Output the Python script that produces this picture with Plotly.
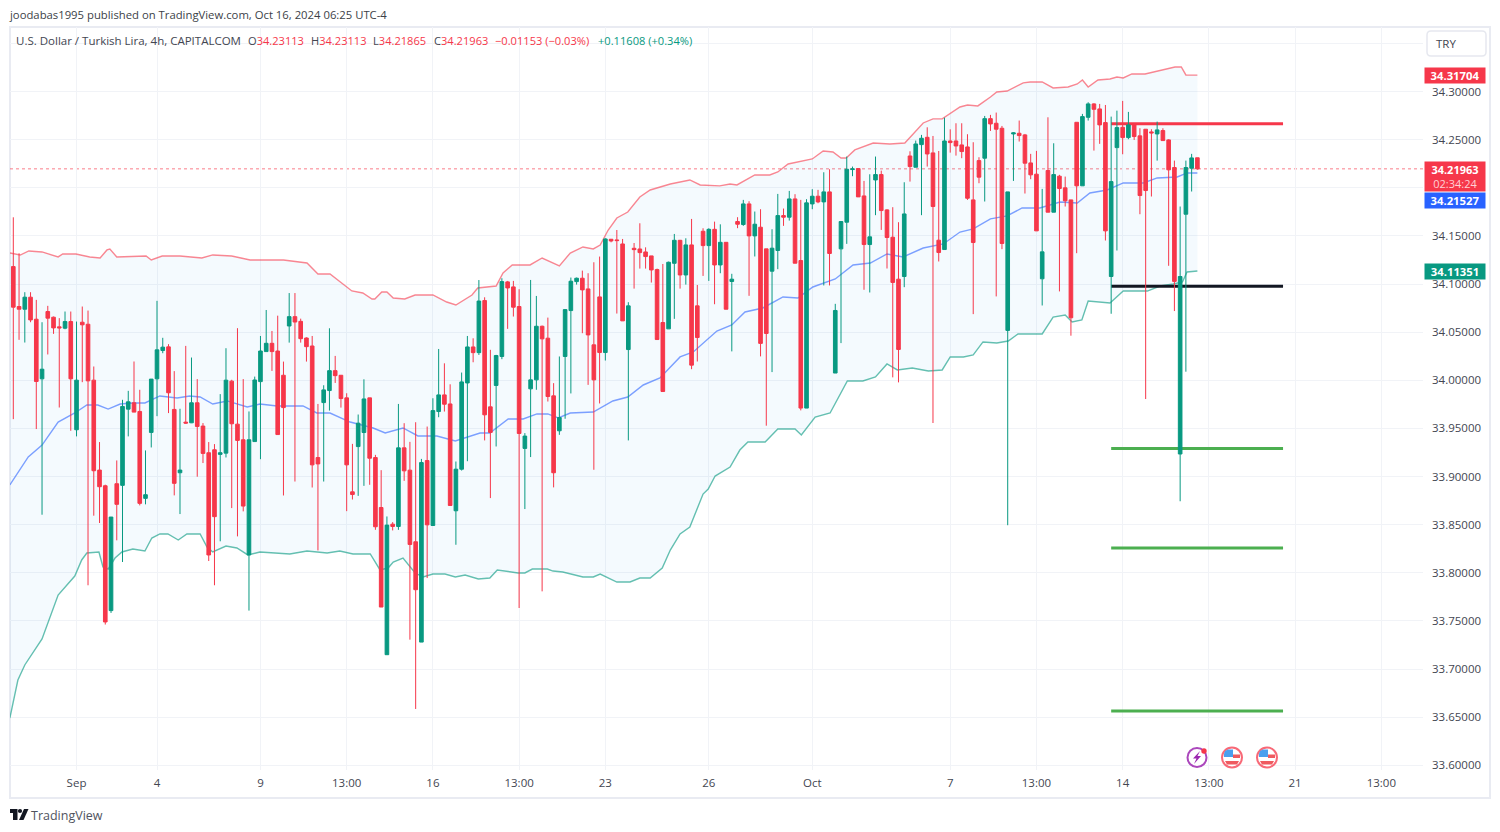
import plotly.graph_objects as go

highs = [34.1693,34.1319,34.0915,34.0915,34.0835,34.0603,34.0773,34.0662,34.0645,34.0714,
34.0714,34.0610,34.0766,34.0724,34.0143,33.9358,33.8915,33.8579,33.9167,33.9797,
33.9890,34.0195,33.9901,33.9271,34.0012,34.0825,34.0441,34.0375,34.0095,33.9704,
34.0357,34.0236,34.0012,33.9555,33.9358,33.9337,33.9856,34.0333,34.0005,34.0541,
34.0012,33.9676,34.0038,34.0460,34.0730,34.0512,34.0671,34.0194,34.0906,34.0906,
34.0640,34.0446,34.0460,33.9754,33.9948,34.0540,34.0253,34.0052,33.9865,33.9339,
33.9644,34.0010,33.9817,33.9225,33.9066,33.8585,33.8526,33.9754,33.9554,33.9360,
33.9564,33.9183,33.9519,33.9813,34.0325,34.0176,33.9958,33.9156,34.0080,34.0460,
34.0436,34.1041,34.0862,34.0316,34.0264,34.1060,34.1032,34.1032,34.0946,33.9451,
34.1042,34.0876,34.0568,34.0651,33.9970,34.0247,34.0738,34.1067,34.1067,34.1139,
34.1112,34.1226,34.1285,34.1475,34.1465,34.1561,34.1468,34.0811,34.1426,34.1631,
34.1381,34.1292,34.1160,34.1208,34.1233,34.1520,34.1458,34.1475,34.1676,34.0990,
34.1579,34.1579,34.1648,34.1620,34.1433,34.1106,34.1694,34.1874,34.1860,34.1753,
34.1777,34.1365,34.1569,34.1936,34.1784,34.1967,34.1933,34.1874,34.1881,34.1985,
34.1978,34.2161,34.2192,34.0794,34.1649,34.2324,34.2220,34.2199,34.2071,34.2140,
34.2324,34.2178,34.1777,34.1798,34.1642,34.2057,34.2379,34.2490,34.2549,34.2628,
34.2538,34.2382,34.2728,34.2607,34.2670,34.2670,34.2556,34.2473,34.2317,34.2746,
34.2757,34.2781,34.2642,34.1957,34.2577,34.2698,34.2559,34.2352,34.2383,34.1988,
34.2732,34.2462,34.2134,34.2116,34.1874,34.2680,34.2767,34.2888,34.2878,34.2871,
34.2860,34.2739,34.2801,34.2902,34.2788,34.2670,34.2618,34.2608,34.2608,34.2687,
34.2618,34.2504,34.2282,34.1805,34.2282,34.2352,34.23113]

opens = [34.1181,34.0766,34.0738,34.0863,34.0634,34.0015,34.0714,34.0655,34.0555,34.0541,
34.0610,33.9486,34.0603,34.0582,34.0001,33.9067,33.8904,33.7607,33.8925,33.8908,
33.9700,33.9766,33.9676,33.8773,33.9458,34.0015,34.0309,34.0347,33.9697,33.9039,
33.9565,33.9558,33.9766,33.9524,33.9247,33.9278,33.9230,33.9243,33.9991,33.9544,
33.9382,33.8185,33.9363,33.9986,34.0298,34.0384,34.0304,34.0052,34.0564,34.0661,
34.0612,34.0439,34.0356,33.9197,33.9768,33.9893,34.0100,34.0052,33.9817,33.8841,
33.9311,33.9457,33.9817,33.9197,33.8678,33.7149,33.8505,33.8481,33.9298,33.9066,
33.8322,33.7280,33.9166,33.8491,33.9675,33.9848,33.9754,33.8644,33.9076,33.9972,
34.0346,34.0287,34.0828,33.9724,33.9946,34.0247,34.1022,34.0970,34.0766,33.9292,
33.9911,34.0004,34.0561,34.0437,33.9838,33.9475,34.0247,34.0724,34.1025,34.1060,
34.0949,34.0368,34.0866,34.0288,34.1465,34.1458,34.1416,34.0319,34.1371,34.1364,
34.1333,34.1292,34.1150,34.0600,34.0534,34.1215,34.1454,34.1094,34.1406,34.0773,
34.1548,34.1399,34.1568,34.1198,34.1433,34.1026,34.1649,34.1618,34.1832,34.1500,
34.1590,34.1365,34.1133,34.1348,34.1711,34.1694,34.1884,34.1244,33.9711,34.1832,
34.1912,34.1853,34.1957,34.0075,34.1365,34.1642,34.2189,34.2199,34.1915,34.1410,
34.2081,34.2137,34.1770,34.1486,34.1050,34.1078,34.2330,34.2213,34.2448,34.2524,
34.2362,34.1455,34.1358,34.2486,34.2486,34.2445,34.2424,34.1874,34.2282,34.2307,
34.2718,34.2670,34.2618,34.0518,34.2559,34.2566,34.2549,34.2258,34.2141,34.1054,
34.2179,34.1746,34.2120,34.1999,34.1874,34.2680,34.2020,34.2732,34.2871,34.2819,
34.2677,34.1078,34.2417,34.2628,34.2521,34.2663,34.2539,34.2608,34.2580,34.2559,
34.2594,34.2497,34.2210,33.9234,34.1725,34.2203,34.23113]

closes = [34.0759,34.0738,34.0863,34.0627,33.9987,34.0115,34.0645,34.0544,34.0544,34.0610,
34.0015,34.0001,34.0576,33.9994,33.9060,33.8894,33.7489,33.8579,33.8711,33.9728,
33.9776,33.9669,33.8721,33.8811,34.0012,34.0316,34.0344,33.9870,33.8929,33.9067,
33.9555,33.9766,33.9520,33.9240,33.8185,33.8583,33.9247,34.0001,33.9548,33.9375,
33.8693,33.9382,34.0003,34.0304,34.0384,34.0298,33.9436,33.9716,34.0661,34.0605,
34.0432,34.0349,33.9121,33.9131,33.9900,34.0100,34.0048,33.9810,33.9121,33.8813,
33.9554,33.9806,33.9190,33.8478,33.7644,33.8495,33.8481,33.9298,33.9059,33.8294,
33.7824,33.9145,33.8498,33.9685,33.9848,33.9751,33.8699,33.9076,33.9983,34.0346,
34.0287,34.0823,33.9641,33.9458,34.0257,34.1025,34.0959,34.0759,33.9447,33.9420,
34.0004,34.0561,34.0430,33.9831,33.9039,33.9613,34.0734,34.1029,34.1060,34.0939,
34.0471,34.0004,34.0288,34.1468,34.1447,34.1451,34.0617,34.0773,34.1357,34.1326,
34.1285,34.1146,34.0423,33.9883,34.1226,34.1454,34.1094,34.1406,34.0157,34.0444,
34.1399,34.1568,34.1198,34.1433,34.0738,34.1050,34.1621,34.1832,34.1500,34.1621,
34.0383,34.0486,34.1372,34.1711,34.1694,34.1884,34.1216,33.9711,34.1843,34.1912,
34.1853,34.1957,34.1317,34.0725,34.1649,34.2192,34.2196,34.1905,34.1410,34.1490,
34.2137,34.1763,34.1483,34.1016,34.0320,34.1728,34.2220,34.2455,34.2514,34.2351,
34.1805,34.1327,34.2486,34.2469,34.2434,34.2376,34.1891,34.1431,34.2110,34.2718,
34.2663,34.2608,34.1421,34.1957,34.2570,34.2542,34.2255,34.2134,34.1552,34.1334,
34.1746,34.2137,34.1992,34.1864,34.0649,34.2020,34.2739,34.2871,34.2815,34.2653,
34.1552,34.2064,34.2625,34.2521,34.2653,34.2532,34.1919,34.1971,34.2570,34.2601,
34.2490,34.2186,34.1027,34.1078,34.2210,34.2310,34.21963]

lows = [33.9596,34.0420,34.0392,34.0603,33.9493,33.8603,34.0268,34.0482,33.9717,34.0530,
33.9475,33.9417,33.9980,33.7870,33.8593,33.8517,33.7462,33.7583,33.8337,33.8112,
33.9417,33.9669,33.8700,33.8711,33.9302,33.9627,34.0281,33.9659,33.8804,33.8610,
33.9548,33.9555,33.8998,33.9140,33.8122,33.7870,33.8327,33.9198,33.8672,33.8378,
33.8638,33.7607,33.9363,33.9180,34.0298,34.0097,33.9436,33.8803,34.0391,33.8948,
34.0391,34.0194,33.8886,33.8232,33.8948,33.9685,33.9972,33.9716,33.8640,33.8761,
33.8799,33.8903,33.8914,33.8446,33.7644,33.7149,33.8440,33.8446,33.8955,33.7305,
33.6585,33.7280,33.7945,33.8491,33.9616,33.9675,33.8699,33.8291,33.9062,33.9159,
34.0187,34.0263,33.9375,33.8776,33.9312,34.0219,34.0534,34.0662,33.7634,33.8662,
33.9202,33.9901,33.7807,33.9779,33.8887,33.9433,33.9600,33.9863,34.0994,34.0489,
33.9952,33.9070,33.9759,34.0205,34.1433,34.0693,34.0617,33.9375,34.0952,34.1160,
34.1160,34.1015,34.0423,33.9883,34.0534,34.0638,34.0952,34.0994,34.0115,34.0195,
34.1084,34.1032,34.0790,34.1112,34.0738,34.0300,34.1580,34.1604,34.0877,34.1286,
34.0248,33.9528,34.0085,34.1154,34.1604,34.1659,34.1216,33.9687,33.9711,34.1777,
34.1839,34.0985,34.0985,34.0075,34.0386,34.1417,34.2120,34.1905,34.0940,34.0912,
34.1715,34.1562,34.1161,34.0030,33.9978,34.0967,34.2064,34.2213,34.1715,34.2220,
33.9556,34.1234,34.1358,34.2365,34.2334,34.2307,34.1874,34.0687,34.2047,34.1857,
34.2590,34.0871,34.1362,33.8494,34.2071,34.2480,34.1940,34.2089,34.1552,34.0777,
34.1746,34.1746,34.0923,34.1805,34.0463,34.1320,34.2020,34.2698,34.2386,34.2456,
34.1452,34.0691,34.1348,34.2348,34.2504,34.2497,34.1725,33.9805,34.1909,34.2282,
34.2490,34.1189,34.0719,33.8743,34.0089,34.1961,34.21865]

candle_index = list(range(len(opens)))

upper_x = [-0.6,1.2,2.7,5.0,7.8,8.6,10.9,13.3,15.1,16.3,16.8,18.0,23.1,24.0,25.9,29.0,32.8,34.7,38.0,41.2,47.0,51.1,53.0,55.1,58.9,60.8,62.4,62.9,64.1,65.0,66.1,68.1,69.9,73.0,75.4,77.0,79.8,80.8,84.0,85.2,86.8,89.9,92.0,95.0,96.9,99.1,100.9,102.1,103.5,105.0,106.9,109.0,110.8,114.3,117.7,119.5,122.9,124.7,125.9,129.0,131.6,133.0,134.8,139.0,140.9,142.6,144.0,144.9,146.4,149.6,152.5,155.1,158.3,160.0,161.6,163.0,164.7,166.0,167.8,170.0,171.1,172.9,175.7,176.9,179.0,180.9,183.5,185.1,186.0,187.0,188.7,190.8,192.0,193.1,194.6,196.9,199.0,200.9,202.1,203.2,204.0,206.0]
upper_band = [34.1322,34.1301,34.1343,34.1333,34.1281,34.1312,34.1312,34.1281,34.1270,34.1354,34.1364,34.1281,34.1291,34.1250,34.1291,34.1291,34.1270,34.1302,34.1291,34.1250,34.1250,34.1218,34.1104,34.1104,34.0928,34.0907,34.0844,34.0844,34.0917,34.0917,34.0855,34.0844,34.0886,34.0886,34.0813,34.0782,34.0886,34.0959,34.0979,34.1115,34.1198,34.1198,34.1270,34.1187,34.1322,34.1385,34.1364,34.1405,34.1561,34.1686,34.1748,34.1904,34.1977,34.2039,34.2081,34.2029,34.2019,34.2039,34.2029,34.2133,34.2133,34.2164,34.2247,34.2299,34.2382,34.2372,34.2309,34.2309,34.2393,34.2465,34.2455,34.2465,34.2673,34.2715,34.2715,34.2767,34.2839,34.2860,34.2850,34.2943,34.2995,34.3005,34.3089,34.3099,34.3099,34.3037,34.3047,34.3078,34.3120,34.3047,34.3120,34.3130,34.3151,34.3141,34.3182,34.3182,34.3213,34.3234,34.3255,34.3255,34.3172,34.31704]

lower_x = [-0.6,0.8,2.0,5.0,7.8,10.7,11.9,12.8,14.9,15.6,16.5,17.7,18.9,20.8,22.9,24.1,25.5,26.9,28.7,30.2,32.5,33.7,34.7,37.0,38.9,40.8,42.9,48.1,51.1,54.6,56.8,59.1,62.1,63.8,65.2,66.1,67.8,69.9,71.3,73.0,75.1,76.9,78.6,80.9,82.9,84.2,87.8,89.0,90.3,92.9,93.9,95.6,99.1,100.9,102.1,105.0,107.3,109.0,110.8,112.9,114.3,116.0,117.7,120.0,120.9,122.1,124.7,126.4,127.8,130.8,133.0,136.0,137.1,139.5,142.1,144.2,145.1,147.8,150.0,152.0,153.8,156.4,159.2,161.6,163.0,165.3,167.0,168.7,171.1,173.1,174.8,179.0,180.9,183.0,184.2,185.9,187.0,190.8,193.1,197.3,199.5,201.8,203.4,204.2,206.0]
lower_band = [33.6491,33.6886,33.7042,33.7312,33.7769,33.7966,33.8133,33.8205,33.8216,33.8060,33.8039,33.8153,33.8216,33.8247,33.8226,33.8361,33.8403,33.8403,33.8340,33.8403,33.8403,33.8268,33.8216,33.8278,33.8257,33.8185,33.8216,33.8195,33.8226,33.8205,33.8226,33.8195,33.8195,33.8029,33.8049,33.8112,33.8153,33.7998,33.7956,33.7987,33.7987,33.7956,33.7977,33.7935,33.7945,33.8029,33.7998,33.7998,33.8039,33.8039,33.8018,33.8008,33.7956,33.7956,33.7987,33.7904,33.7904,33.7945,33.7945,33.8049,33.8236,33.8403,33.8475,33.8818,33.8870,33.9005,33.9099,33.9275,33.9359,33.9359,33.9494,33.9494,33.9431,33.9618,33.9660,33.9899,33.9992,33.9992,34.0034,34.0169,34.0107,34.0127,34.0096,34.0107,34.0242,34.0242,34.0263,34.0398,34.0387,34.0408,34.0481,34.0481,34.0657,34.0678,34.0605,34.0626,34.0824,34.0803,34.0927,34.0927,34.0979,34.1000,34.1021,34.1125,34.11351]

ma_x = [-0.6,2.6,5.0,7.8,10.7,12.8,14.7,16.5,18.6,20.8,22.9,25.5,28.5,30.7,32.5,34.7,37.2,40.7,42.9,45.9,50.4,52.8,55.1,58.6,62.6,64.7,67.8,70.4,73.7,76.9,81.2,82.9,86.1,88.7,91.1,93.0,94.8,96.9,100.9,104.3,106.9,109.6,112.5,116.0,118.3,122.4,125.0,127.3,130.4,133.9,136.5,139.1,143.0,146.1,149.1,152.0,154.8,158.3,161.8,164.7,167.0,170.0,172.9,175.5,178.6,182.1,185.1,187.3,190.3,193.1,196.6,199.0,202.5,204.2,206.0]
ma_band = [33.8912,33.9203,33.9327,33.9566,33.9660,33.9743,33.9743,33.9701,33.9753,33.9764,33.9764,33.9837,33.9816,33.9837,33.9826,33.9753,33.9785,33.9722,33.9753,33.9733,33.9733,33.9660,33.9660,33.9566,33.9504,33.9452,33.9504,33.9421,33.9421,33.9369,33.9452,33.9452,33.9598,33.9598,33.9650,33.9650,33.9608,33.9660,33.9670,33.9785,33.9826,33.9951,34.0024,34.0242,34.0294,34.0512,34.0574,34.0709,34.0751,34.0865,34.0855,34.0969,34.1052,34.1198,34.1218,34.1312,34.1281,34.1374,34.1416,34.1540,34.1572,34.1676,34.1707,34.1790,34.1790,34.1852,34.1842,34.1946,34.1977,34.2050,34.2050,34.2102,34.2112,34.2154,34.21527]

level_x = [191, 220.9]
resistance_level = 34.2666
pivot_level = 34.0976
support_levels = [33.9291, 33.8257, 33.6564]

y_ticks = [33.60,33.65,33.70,33.75,33.80,33.85,33.90,33.95,34.00,34.05,34.10,34.15,34.25,34.30,34.20,34.35]
y_labels = ["33.60000","33.65000","33.70000","33.75000","33.80000","33.85000","33.90000","33.95000","34.00000","34.05000","34.10000","34.15000","34.25000","34.30000","",""]
x_ticks = [11,25,43,58,73,88,103,121,139,163,178,193,208,223,238]
x_labels = ["Sep","4","9","13:00","16","13:00","23","26","Oct","7","13:00","14","13:00","21","13:00"]

RED = "#f6374a"
GREEN = "#089981"
BLUE = "#2962ff"
GRID = "#f1f3f7"
FONT = "Open Sans"
W, H = 1500, 832
L, R_, T, B = 10, 1423, 27, 770
xr = [-0.574, 245.25]
yr = [33.5951, 34.3670]

def px(x): return (x - L) / (R_ - L)
def py(y): return (B - y) / (B - T)

fig = go.Figure()
fig.add_trace(go.Scatter(x=lower_x, y=lower_band, mode="lines", line=dict(color="rgba(8,153,129,0.62)", width=1.4), hoverinfo="skip"))
fig.add_trace(go.Scatter(x=upper_x, y=upper_band, mode="lines", line=dict(color="rgba(246,55,74,0.6)", width=1.4),
                         fill="tonexty", fillcolor="rgba(33,150,243,0.05)", hoverinfo="skip"))
fig.add_trace(go.Scatter(x=ma_x, y=ma_band, mode="lines", line=dict(color="rgba(41,98,255,0.6)", width=1.4), hoverinfo="skip"))
fig.add_trace(go.Scatter(x=level_x, y=[resistance_level]*2, mode="lines", line=dict(color=RED, width=3), hoverinfo="skip"))
fig.add_trace(go.Scatter(x=level_x, y=[pivot_level]*2, mode="lines", line=dict(color="#131722", width=3), hoverinfo="skip"))
for lv in support_levels:
    fig.add_trace(go.Scatter(x=level_x, y=[lv]*2, mode="lines", line=dict(color="#4caf50", width=3), hoverinfo="skip"))
fig.add_trace(go.Candlestick(x=candle_index, open=opens, high=highs, low=lows, close=closes,
    xaxis="x2", yaxis="y2", whiskerwidth=0,
    increasing=dict(line=dict(color=GREEN, width=1), fillcolor=GREEN),
    decreasing=dict(line=dict(color=RED, width=1), fillcolor=RED)))

shapes = [
    dict(type="rect", xref="paper", yref="paper", x0=px(10), x1=px(1490), y0=py(798), y1=py(27),
         line=dict(color="#e9ebf2", width=2), fillcolor="rgba(0,0,0,0)", layer="below"),
    dict(type="line", xref="paper", yref="y", x0=0, x1=1, y0=closes[-1], y1=closes[-1],
         line=dict(color="rgba(246,55,74,0.65)", width=1, dash="dot"), layer="below"),
]

def rrect(x0, y0, x1, y1, r):
    return (f"M{px(x0+r)},{py(y0)} L{px(x1-r)},{py(y0)} Q{px(x1)},{py(y0)} {px(x1)},{py(y0+r)} "
            f"L{px(x1)},{py(y1-r)} Q{px(x1)},{py(y1)} {px(x1-r)},{py(y1)} L{px(x0+r)},{py(y1)} "
            f"Q{px(x0)},{py(y1)} {px(x0)},{py(y1-r)} L{px(x0)},{py(y0+r)} Q{px(x0)},{py(y0)} {px(x0+r)},{py(y0)} Z")

def poly(points):
    return "M" + " L".join(f"{px(a)},{py(b)}" for a, b in points) + " Z"

def circle(cx, cy, r, line=None, w=0, fill="rgba(0,0,0,0)"):
    return dict(type="circle", xref="paper", yref="paper", x0=px(cx-r), x1=px(cx+r), y0=py(cy+r), y1=py(cy-r),
                line=dict(color=line or "rgba(0,0,0,0)", width=w), fillcolor=fill)

def pshape(path, fill, line="rgba(0,0,0,0)", w=0):
    return dict(type="path", xref="paper", yref="paper", path=path, fillcolor=fill, line=dict(color=line, width=w))

shapes.append(pshape(rrect(1427, 31, 1486, 56, 4), "#ffffff", "#e6e8ef", 1.5))
shapes.append(circle(1197, 757.5, 9.5, "#ab47bc", 2, "#ffffff"))
shapes.append(pshape(poly([(1200,751),(1193,758.5),(1196.5,758.5),(1194,764),(1201,756),(1197.5,756)]), "#9c27b0"))
shapes.append(circle(1204, 751, 2.7, None, 0, RED))
for cx in (1232, 1267):
    shapes.append(circle(cx, 757.5, 10, "rgba(246,55,74,0.75)", 2, "#ffffff"))
    shapes.append(pshape(poly([(cx-7,751),(cx-4,749.5),(cx+1,749.5),(cx+1,757),(cx-8,757),(cx-8,754)]), "#4a9fee"))
    shapes.append(pshape(poly([(cx+1,754.5),(cx+8,754.5),(cx+8,758),(cx+1,758)]), "#ef5a5f"))
    shapes.append(pshape(poly([(cx-7,761),(cx+7,761),(cx+5,764.5),(cx-5,764.5)]), "#ef5a5f"))
shapes.append(pshape(poly([(10,809),(17.5,809),(17.5,820),(13,820),(13,813),(10,813)]), "#131722"))
shapes.append(circle(20, 811, 2.1, None, 0, "#131722"))
shapes.append(pshape(poly([(24,809),(28.5,809),(23.5,820),(19,820)]), "#131722"))

def label(x, y, text, color="#131722", size=11.3, anchor="left", yref="paper", **kw):
    return dict(xref="paper", yref=yref, x=px(x - 3), y=y if yref != "paper" else py(y), text=text, showarrow=False,
                xanchor=anchor, yanchor="middle", align="left", font=dict(family=FONT, size=size, color=color), **kw)

def price_tag(value, bg, yshift=0):
    return dict(xref="paper", yref="y", x=px(1424), y=value, yshift=yshift, text=f"<b>{value:.5f}</b>", showarrow=False,
                xanchor="left", yanchor="middle", width=59, height=14, bgcolor=bg, borderpad=0.5,
                font=dict(family=FONT, size=11.3, color="#ffffff"), align="center")

GREY = "#434651"
annotations = [
    label(10, 14, "joodabas1995 published on TradingView.com, Oct 16, 2024 06:25 UTC-4", "#3c3f48", 11.3),
    label(17, 41, "U.S. Dollar / Turkish Lira, 4h, CAPITALCOM", GREY, 11.5),
    label(249, 41, f'O<span style="color:{RED}">34.23113</span>', GREY, 11.1),
    label(312, 41, f'H<span style="color:{RED}">34.23113</span>', GREY, 11.1),
    label(374, 41, f'L<span style="color:{RED}">34.21865</span>', GREY, 11.1),
    label(435, 41, f'C<span style="color:{RED}">34.21963</span>', GREY, 11.1),
    label(496, 41, "−0.01153 (−0.03%)", RED, 11.1),
    label(599, 41, "+0.11608 (+0.34%)", GREEN, 11.1),
    label(1437, 43.5, "TRY", GREY, 11.5),
    label(32, 815, "TradingView", "#50535e", 12.5),
    price_tag(upper_band[-1], RED),
    price_tag(lower_band[-1], GREEN),
    price_tag(ma_band[-1], BLUE, yshift=-27),
    dict(xref="paper", yref="y", x=px(1424), y=closes[-1], yshift=-7.5, text=f"<b>{closes[-1]:.5f}</b><br><span style='color:#ffd0d5'>02:34:24</span>",
         showarrow=False, xanchor="left", yanchor="middle", width=59, height=28, bgcolor=RED, borderpad=0.5,
         font=dict(family=FONT, size=11, color="#ffffff"), align="center"),
]

fig.update_layout(
    width=W, height=H, autosize=False, margin=dict(l=L, r=W-R_, t=T, b=H-B, pad=0),
    paper_bgcolor="#ffffff", plot_bgcolor="#ffffff", showlegend=False, boxgap=0.1,
    font=dict(family=FONT, size=11.5, color=GREY), shapes=shapes, annotations=annotations,
    xaxis=dict(range=xr, tickmode="array", tickvals=x_ticks, ticktext=x_labels, showgrid=True, gridcolor=GRID, gridwidth=1,
               zeroline=False, showline=False, ticks="", ticklabelstandoff=4, tickfont=dict(family=FONT, size=11.5, color=GREY),
               rangeslider=dict(visible=False), fixedrange=True),
    yaxis=dict(range=yr, side="right", tickmode="array", tickvals=y_ticks, ticktext=y_labels, showgrid=True, gridcolor=GRID, gridwidth=1,
               zeroline=False, showline=False, ticks="", ticklabelstandoff=8, tickfont=dict(family=FONT, size=11.5, color=GREY), fixedrange=True),
    xaxis2=dict(range=xr, overlaying="x", visible=False, rangeslider=dict(visible=False), fixedrange=True),
    yaxis2=dict(range=yr, overlaying="y", visible=False, fixedrange=True),
)
fig.write_html("out.html", config=dict(displayModeBar=False),
               post_script="document.body.style.margin='0';document.body.style.overflow='hidden';")
